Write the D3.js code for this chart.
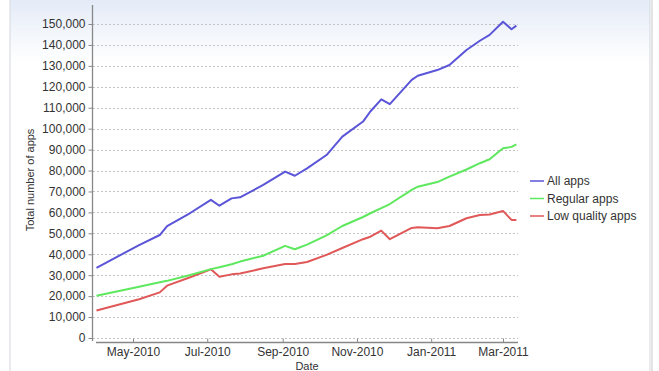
<!DOCTYPE html>
<html>
<head>
<meta charset="utf-8">
<script src="https://cdn.jsdelivr.net/npm/d3@7"></script>
<style>
  body { margin: 0; background: #fff; }
  text { font-family: Arial, "Liberation Sans", sans-serif; fill: #333; }
</style>
</head>
<body>
<div id="graph-area"></div>
<script>
var dates = ["2010-04-01","2010-05-06","2010-05-23","2010-05-29","2010-06-17","2010-07-04",
    "2010-07-11","2010-07-21","2010-07-28","2010-08-16","2010-09-03","2010-09-11",
    "2010-09-21","2010-10-07","2010-10-20","2010-11-06","2010-11-12","2010-11-21",
    "2010-11-28","2010-12-16","2010-12-21","2011-01-06","2011-01-16","2011-01-30",
    "2011-02-10","2011-02-18","2011-03-01","2011-03-08","2011-03-12"];

var allApps = [33500,44400,49200,53500,59700,66000,63200,66700,67200,73100,79500,77500,
    81000,87400,96200,103400,108200,114000,111700,123300,125300,128000,130400,137600,
    142000,144800,151100,147500,149200];

var regularApps = [20200,24500,26600,27300,30100,32900,33800,35200,36500,39300,44000,42400,
    44600,49000,53500,57800,59600,62000,64000,70800,72300,74500,77100,80500,
    83500,85400,90600,91300,92500];

var lowQualityApps = [13100,18500,21800,25000,29000,32800,29300,30400,30800,33300,35400,35400,
    36300,39700,43000,47200,48400,51300,47200,52600,52900,52400,53500,57200,
    58800,59000,60700,56400,56400];

var seriesNames = ["All apps", "Regular apps", "Low quality apps"];
var seriesColors = ["#5a55d8", "#5ee85e", "#e05858"];

var yTicks = d3.range(0, 150001, 10000);
var xTicks = ["2010-05-01","2010-07-01","2010-09-01","2010-11-01","2011-01-01","2011-03-01"];

var width = 659, height = 371;
var parse = d3.timeParse("%Y-%m-%d");

var svg = d3.select("#graph-area").append("svg")
    .attr("width", width)
    .attr("height", height);

// panel background with light blue top
var defs = svg.append("defs");
var grad = defs.append("linearGradient")
    .attr("id", "bg").attr("x1", 0).attr("y1", 0).attr("x2", 0).attr("y2", 1);
grad.append("stop").attr("offset", "0%").attr("stop-color", "#e3eaf7");
grad.append("stop").attr("offset", "17%").attr("stop-color", "#ffffff");
grad.append("stop").attr("offset", "100%").attr("stop-color", "#ffffff");

svg.append("rect")
    .attr("x", 10).attr("y", -2)
    .attr("width", 640).attr("height", height + 4)
    .attr("fill", "url(#bg)")
    .attr("stroke", "#d4d8dd");
svg.append("line")
    .attr("x1", 652).attr("x2", 652).attr("y1", 0).attr("y2", height)
    .attr("stroke", "#e4e4e4").attr("stroke-width", 2);

var x = d3.scaleTime()
    .domain([parse("2010-05-01"), parse("2011-03-01")])
    .range([133, 503]);

var y = d3.scaleLinear()
    .domain([0, 150000])
    .range([338, 24]);

// grid
svg.append("g").selectAll("line")
    .data(yTicks)
    .enter().append("line")
    .attr("x1", 93).attr("x2", 518)
    .attr("y1", function(d) { return Math.round(y(d)) + 0.5; })
    .attr("y2", function(d) { return Math.round(y(d)) + 0.5; })
    .attr("stroke", "#c4c4c4")
    .attr("stroke-dasharray", "2,2");

// y axis
var yAxis = d3.axisLeft(y)
    .tickValues(yTicks)
    .tickSize(4)
    .tickPadding(3)
    .tickFormat(d3.format(","));

var yg = svg.append("g")
    .attr("transform", "translate(92.5,0)")
    .call(yAxis);
yg.select(".domain").remove();
yg.selectAll(".tick line").attr("stroke", "#888");
yg.selectAll("text").style("font-size", "12px").attr("fill", "#333");
yg.append("line")
    .attr("x1", 0).attr("x2", 0).attr("y1", 5).attr("y2", 341)
    .attr("stroke", "#888").attr("stroke-width", 1.3);

// x axis
var xAxis = d3.axisBottom(x)
    .tickValues(xTicks.map(parse))
    .tickSize(4)
    .tickPadding(1)
    .tickFormat(d3.timeFormat("%b-%Y"));

var xg = svg.append("g")
    .attr("transform", "translate(0,342.5)")
    .call(xAxis);
xg.select(".domain").remove();
xg.selectAll(".tick line").attr("stroke", "#888").attr("y1", -4).attr("y2", 0);
xg.selectAll("text").style("font-size", "12px").attr("fill", "#333");
xg.append("line")
    .attr("x1", 96).attr("x2", 518).attr("y1", 0).attr("y2", 0)
    .attr("stroke", "#888").attr("stroke-width", 1.3);

// titles
svg.append("text")
    .attr("transform", "translate(34,180) rotate(-90)")
    .attr("text-anchor", "middle")
    .style("font-size", "11px")
    .text("Total number of apps");

svg.append("text")
    .attr("x", 307).attr("y", 370)
    .attr("text-anchor", "middle")
    .style("font-size", "11px")
    .text("Date");

// lines
var line = d3.line()
    .x(function(d) { return x(d.date); })
    .y(function(d) { return y(d.value); });

var lines = svg.append("g");
[lowQualityApps, regularApps, allApps].forEach(function(values, k) {
    var i = 2 - k;
    var data = values.map(function(v, j) { return {date: parse(dates[j]), value: v}; });
    lines.append("path")
        .datum(data)
        .attr("fill", "none")
        .attr("stroke", seriesColors[i])
        .attr("stroke-width", 2)
        .attr("stroke-linejoin", "round")
        .attr("d", line);
});

// legend
var legend = svg.append("g").attr("transform", "translate(530,181)");
seriesNames.forEach(function(name, i) {
    var row = legend.append("g").attr("transform", "translate(0," + (i * 17.5) + ")");
    row.append("line")
        .attr("x1", 0).attr("x2", 14)
        .attr("stroke", seriesColors[i])
        .attr("stroke-width", 1.5);
    row.append("text")
        .attr("x", 17).attr("y", 4)
        .style("font-size", "12px")
        .text(name);
});
</script>
</body>
</html>
